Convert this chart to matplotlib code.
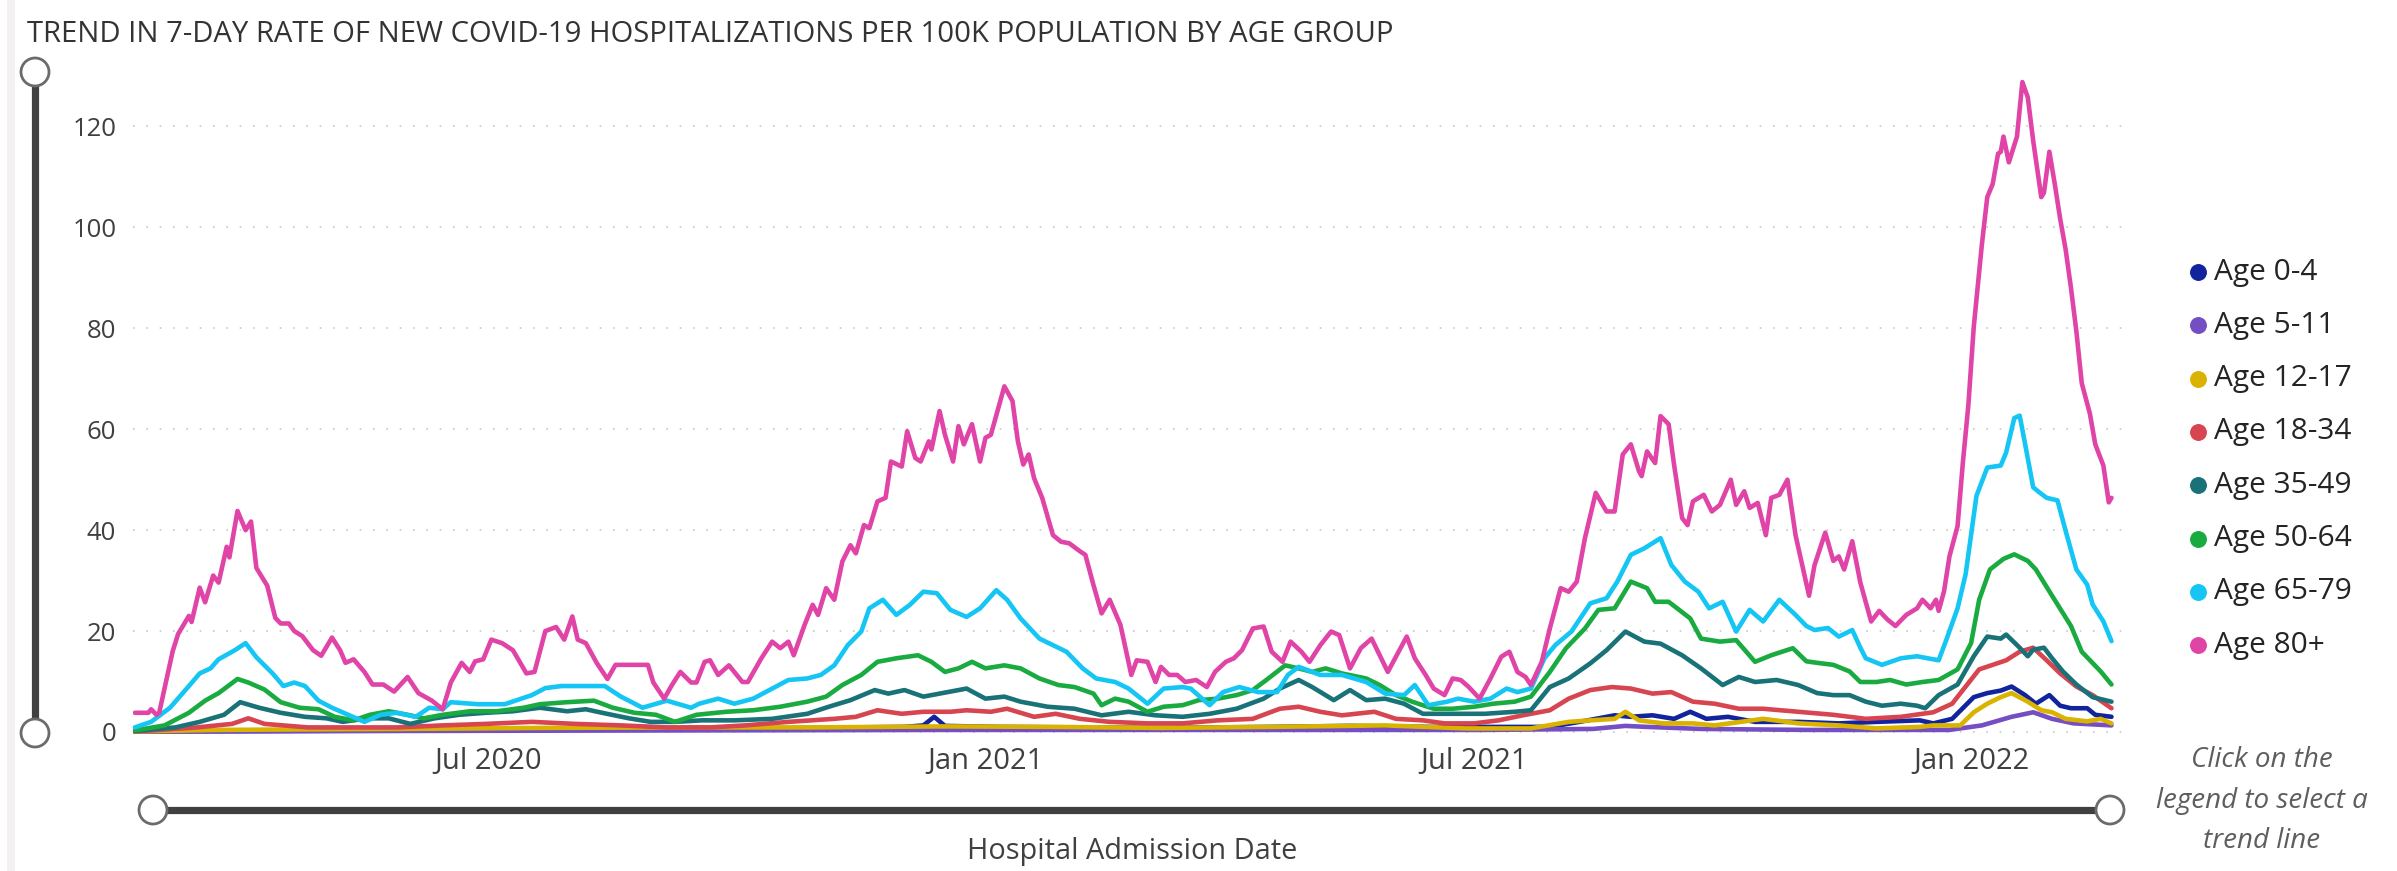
import numpy as np
import pandas as pd
import matplotlib
matplotlib.use("Agg")
import matplotlib.pyplot as plt
import matplotlib.dates as mdates
from matplotlib.patches import Circle, Rectangle

plt.rcParams['font.family'] = ['Open Sans', 'DejaVu Sans']

# first admission date on the axis; every series is given as day offsets from it
start = pd.Timestamp('2020-02-21')

groups = ['Age 0-4', 'Age 5-11', 'Age 12-17', 'Age 18-34',
          'Age 35-49', 'Age 50-64', 'Age 65-79', 'Age 80+']
colors = ['#12239E', '#744EC2', '#D9B300', '#D64550',
          '#197278', '#1AAB40', '#15C6F4', '#E044A7']
tick_dates = ['2020-07-01', '2021-01-01', '2021-07-01', '2022-01-01']
tick_labels = ['Jul 2020', 'Jan 2021', 'Jul 2021', 'Jan 2022']

days_0_4 = [0, 50, 100, 150, 200, 250, 285, 292, 296, 300, 320, 350, 380, 420, 450, 480, 510, 524, 535, 548,
            554, 562, 570, 576, 582, 590, 600, 616, 631, 645, 661, 666, 673, 681, 686, 691, 695, 700, 704, 709,
            713, 717, 723, 726, 732]
rate_0_4 = [0.1, 0.2, 0.3, 0.5, 0.6, 0.8, 1.0, 1.3, 3.0, 1.2, 1.0, 0.9, 0.8, 1.0, 1.2, 1.0, 1.0, 1.0, 2.0, 3.3,
            3.0, 3.3, 2.6, 4.0, 2.6, 3.0, 2.0, 2.0, 1.7, 2.0, 2.3, 1.7, 2.6, 6.9, 7.7, 8.2, 9.0, 7.3, 5.6, 7.3,
            5.2, 4.7, 4.7, 3.4, 3.0]

days_5_11 = [0, 100, 200, 300, 400, 500, 540, 552, 560, 580, 620, 672, 684, 695, 703, 710, 718, 732]
rate_5_11 = [0.05, 0.2, 0.3, 0.4, 0.4, 0.4, 0.6, 1.2, 1.0, 0.6, 0.4, 0.4, 1.3, 3.0, 3.9, 2.6, 1.7, 1.3]

days_12_17 = [0, 30, 60, 100, 150, 200, 250, 300, 340, 380, 420, 463, 493, 517, 531, 539, 548, 552, 557, 566,
              577, 585, 603, 616, 631, 645, 661, 666, 676, 681, 686, 691, 695, 701, 706, 710, 715, 723, 728, 732]
rate_12_17 = [0.1, 0.4, 0.5, 0.6, 0.8, 0.9, 0.9, 1.1, 1.0, 0.8, 1.0, 1.3, 0.7, 0.7, 2.0, 2.3, 2.6, 4.0, 2.3, 1.7,
              1.7, 1.3, 2.6, 1.7, 1.3, 0.7, 1.0, 1.3, 1.3, 3.9, 5.6, 6.9, 7.7, 6.0, 4.3, 3.9, 2.6, 2.1, 2.6, 1.7]

days_18_34 = [0, 23, 36, 42, 48, 64, 81, 97, 114, 130, 147, 163, 180, 197, 213,
              226, 242, 259, 267, 275, 284, 292, 302, 308, 317, 323, 333, 341, 350, 361, 375, 388, 401, 414, 424,
              431, 439, 447, 459, 467, 477, 485, 496, 505, 514, 524, 531, 539, 547, 554, 562, 569, 577, 585, 594,
              603, 616, 629, 641, 654, 666, 673, 678, 683, 688, 693, 698, 703, 708, 713, 719, 725, 732]
rate_18_34 = [0.1, 0.9, 1.6, 2.7, 1.6, 0.9, 0.9, 0.9, 1.3, 1.6, 2, 1.6, 1.3, 0.9, 0.9,
              1.3, 2, 2.6, 3, 4.3, 3.6, 4, 4, 4.3, 4, 4.6, 3, 3.6, 2.6, 2, 1.7, 1.7, 2.3, 2.6, 4.6,
              5, 4, 3.3, 4, 2.6, 2.3, 1.7, 1.7, 2.3, 3.3, 4.3, 6.6, 8.3, 8.9, 8.6, 7.6, 7.9, 6, 5.6, 4.6,
              4.6, 4, 3.4, 2.6, 3, 3.9, 5.6, 9, 12.4, 13.3, 14.2, 15.9, 16.7, 14.2, 11.6, 9, 7.3, 4.7]

days_35_49 = [0, 15, 24, 33, 39, 46, 54, 63, 71, 77, 86, 94, 102, 111, 120, 130, 140, 150, 160, 167,
              173, 183, 191, 200, 210, 222, 236, 249, 257, 265, 274, 279, 285, 292, 298,
              308, 315, 322, 328, 338, 348, 358, 368, 378, 388, 398, 408, 418, 424, 431, 436,
              444, 450, 456, 463, 470, 477, 485, 493, 500, 511, 517, 524, 531, 539, 545, 552, 559, 565, 573, 580,
              588, 594, 600, 608, 616, 623, 629, 635, 641, 647, 654, 660, 663, 668, 675,
              681, 686, 691, 693, 698, 701, 703, 707, 710, 714, 719, 725, 732]
rate_35_49 = [0.2, 0.9, 2, 3.4, 5.9, 4.8, 3.8, 3, 2.7, 2, 2.7, 2.7, 1.6, 2.7, 3.4, 3.8, 4.1, 4.8, 4.1, 4.5,
              3.8, 2.7, 2, 2, 2.3, 2.3, 2.6, 3.6, 5, 6.3, 8.3, 7.6, 8.3, 7, 7.6,
              8.6, 6.6, 7, 6, 5, 4.6, 3.3, 4, 3.3, 3, 3.6, 4.6, 6.6, 8.6, 10.3, 8.9,
              6.3, 8.3, 6.3, 6.6, 5.6, 3.6, 3.6, 3.6, 3.6, 4, 4.3, 8.9, 10.6, 13.6, 16.2, 19.9, 17.9, 17.5, 15.2, 12.6,
              9.3, 10.9, 9.9, 10.3, 9.3, 7.7, 7.3, 7.3, 6, 5.2, 5.6, 5.2, 4.7, 7.3, 9.4,
              15, 18.9, 18.5, 19.3, 16.7, 15, 16.3, 16.7, 14.6, 12, 9.4, 6.9, 6]

days_50_64 = [0, 11, 20, 26, 31, 38, 42, 48, 54, 61, 68, 74, 81, 87, 94, 101, 107, 114, 124, 134,
              144, 150, 160, 170, 177, 185, 193, 200, 208, 219, 229, 239, 249, 256, 262, 269, 275, 282, 290,
              295, 300, 305, 310, 315, 322, 328, 335, 342, 348, 355, 358, 363, 368, 375, 381, 388, 394, 401, 408,
              414, 419, 426, 431, 436, 441, 447, 456, 461, 467, 473, 481, 488, 496, 503, 511,
              517, 524, 530, 537, 542, 548, 554, 560, 563, 568, 576, 580, 587, 593, 600, 606, 614,
              619, 623, 629, 635, 639, 645, 650, 656, 662, 668, 675, 680, 683, 687, 692, 696, 701, 704, 710, 717,
              721, 728, 732]
rate_50_64 = [0.3, 1.3, 3.8, 6.2, 7.7, 10.5, 9.8, 8.4, 5.9, 4.8, 4.5, 3, 2.3, 3.4, 4.1, 3.4, 2.7, 3.4, 4.1, 4.1,
              4.8, 5.5, 5.9, 6.2, 4.8, 3.8, 3.4, 2, 3.4, 4, 4.3, 5, 6, 7, 9.3, 11.3, 13.9, 14.6, 15.2,
              13.9, 11.9, 12.6, 13.9, 12.6, 13.2, 12.6, 10.6, 9.3, 8.9, 7.6, 5.3, 6.6, 6, 4, 5, 5.3, 6.3, 6.6, 7.3,
              8.3, 10.3, 13.2, 12.6, 11.9, 12.6, 11.6, 10.6, 9.3, 7.3, 6, 4.6, 4.6, 5, 5.6, 6,
              7, 11.9, 16.6, 20.5, 24.2, 24.5, 29.8, 28.5, 25.8, 25.8, 22.5, 18.5, 17.9, 18.2, 13.9, 15.2, 16.6,
              14, 13.7, 13.3, 12, 9.9, 9.9, 10.3, 9.4, 9.9, 10.3, 12.4, 17.6, 26.2, 32.2, 34.3, 35.2, 33.9, 32.2, 27, 21,
              15.9, 12, 9.4]

days_65_79 = [0, 6, 13, 20, 24, 28, 31, 37, 41, 45, 51, 55, 59, 63, 68, 73, 79, 85, 91, 97,
              104, 109, 114, 117, 127, 137, 147, 152, 158, 165, 174, 180, 188, 197, 206, 209, 216, 222, 229, 236,
              242, 249, 254, 259, 264, 269, 272, 277, 282, 287, 292, 297, 302, 308, 313, 319, 323, 328, 335, 340,
              345, 351, 356, 363, 368, 375, 381, 388, 391, 398, 403, 409, 416, 423, 427, 431, 439, 447, 456, 463,
              470, 474, 479, 486, 490, 496, 502, 508, 512, 517, 522, 526, 532, 539, 545, 549, 554, 559, 565, 569,
              574, 579, 583, 588, 593, 598, 603, 609, 615, 619, 622, 627, 631, 636, 639, 641, 647, 654, 660,
              668, 671, 675, 678, 682, 686, 691, 693, 696, 698, 700, 703, 705, 708, 712, 715, 719, 723, 725, 729, 732]
rate_65_79 = [0.9, 2, 4.8, 9.1, 11.6, 12.6, 14.4, 16.2, 17.6, 14.8, 11.6, 9.1, 9.8, 9.1, 6.2, 4.8, 3.4, 2, 3.4, 3.8,
              3, 4.8, 4.5, 5.9, 5.5, 5.5, 7.3, 8.7, 9.1, 9.1, 9.1, 7, 4.8, 6.2, 4.8, 5.6, 6.6, 5.6, 6.6, 8.6,
              10.3, 10.6, 11.3, 13.2, 17.2, 19.9, 24.5, 26.2, 23.2, 25.2, 27.8, 27.5, 24.2, 22.8, 24.5, 28.1, 26.2, 22.5, 18.5, 17.2,
              15.9, 12.6, 10.6, 9.9, 8.6, 5.6, 8.6, 8.9, 8.6, 5.3, 7.9, 8.9, 7.9, 7.9, 11.3, 12.9, 11.3, 11.3, 9.9, 7.6,
              7.3, 9.3, 5.3, 6, 6.6, 6, 6.6, 8.6, 7.9, 8.6, 14.6, 17.2, 19.9, 25.5, 26.5, 29.8, 35.1, 36.4, 38.4, 33.1,
              29.8, 27.8, 24.5, 25.8, 19.9, 24.2, 21.9, 26.2, 23.2, 21, 20.2, 20.6, 18.9, 20.2, 16.7, 14.6, 13.3, 14.6, 15,
              14.2, 18.5, 24.5, 31.3, 46.8, 52.4, 52.8, 55.4, 62.2, 62.7, 57.1, 48.5, 47.6, 46.4, 45.9, 39.9, 32.2, 29.2, 25.3, 21.9, 18]

days_80 = [0, 5, 6, 8, 9, 14, 16, 20, 21, 24, 26, 29, 31, 34, 35, 38, 41, 43, 45, 49,
           52, 54, 57, 59, 62, 66, 69, 73, 76, 78, 81, 85, 88, 92, 96, 101, 105, 110, 114, 117,
           121, 124, 126, 129, 132, 136, 140, 145, 148, 152, 156, 159, 162, 164, 167, 171, 175, 178, 182, 186,
           190, 192, 196, 199, 202, 206, 208, 211, 213, 216, 220, 225, 227, 232, 236, 239, 242,
           244, 248, 251, 253, 256, 259, 262, 265, 267, 270, 272, 275, 278, 280, 284, 286, 289, 291, 294, 295,
           298, 300, 303, 305, 307, 310, 313, 315, 317, 322, 325, 327, 329, 331, 333, 336, 340, 343, 346, 350,
           352, 355, 358, 361, 365, 369, 371, 375, 378, 380, 383, 386, 389, 393, 397, 400, 404, 407, 410, 414,
           418, 421, 425, 428, 432, 435, 439, 443, 446, 450, 454, 458, 461, 464, 468,
           471, 474, 478, 481, 485, 488, 491, 494, 498, 502, 506, 509, 512, 515, 517, 521, 524, 528, 531, 534,
           537, 541, 545, 548, 551, 554, 557, 558, 560, 563, 565, 568, 570, 573, 575, 577, 581, 584, 587, 591,
           593, 596, 598, 601, 604, 606, 609, 612, 615, 620, 622, 626, 629, 631, 633, 636, 639, 643, 646,
           649, 652, 656, 660, 662, 665, 667, 668, 670, 672, 675, 677, 679, 681, 684, 686, 688, 690, 691, 692,
           694, 697, 699, 701, 703, 706, 707, 709, 711, 713, 715, 717, 719, 721, 724, 726, 729, 731, 732]
rate_80 = [3.8, 3.8, 4.5, 3.4, 3.8, 16, 19.4, 23, 21.8, 28.6, 25.7, 31, 29.6, 36.7, 34.6, 43.8, 40, 41.7, 32.5, 29,
           22.6, 21.5, 21.5, 20, 19, 16.2, 15.1, 18.7, 16.2, 13.7, 14.4, 11.9, 9.4, 9.4, 8, 10.9, 7.7, 6.2, 4.5, 9.8,
           13.7, 11.9, 14, 14.4, 18.3, 17.6, 16.2, 11.6, 11.9, 20, 20.8, 18.3, 22.9, 18.3, 17.6, 13.7, 10.5, 13.3, 13.3, 13.3,
           13.3, 9.8, 6.6, 9.4, 11.9, 9.8, 9.8, 13.9, 14.2, 11.3, 13.2, 9.9, 9.9, 14.6, 17.9, 16.6, 17.9,
           15.2, 21.2, 25.2, 23.2, 28.5, 26.2, 33.8, 37, 35.4, 41, 40.4, 45.7, 46.4, 53.6, 52.6, 59.6, 54.3, 53.6, 57.6, 56,
           63.6, 58.9, 53.6, 60.6, 57, 61, 53.6, 58.3, 58.9, 68.5, 65.6, 57.6, 53, 55, 50.3, 46.4, 39, 37.7, 37.4, 35.8,
           35.1, 29.1, 23.5, 26.2, 21.2, 11.3, 14.2, 13.9, 9.9, 12.9, 11.3, 11.3, 9.9, 10.3, 8.9, 11.9, 13.9, 14.6, 16.2, 20.5,
           20.9, 15.9, 13.9, 17.9, 15.9, 13.9, 17.2, 19.9, 19.2, 12.6, 16.6, 18.5, 15.2, 11.9, 15.9,
           18.9, 14.6, 11.3, 8.6, 7.3, 10.6, 10.3, 8.9, 6.6, 10.6, 14.9, 15.9, 11.9, 10.9, 9.3, 13.9, 20.5, 28.5, 27.8, 29.8,
           38.4, 47.4, 43.7, 43.7, 55, 57, 51.7, 50.7, 55.6, 53.3, 62.6, 61, 53, 42.4, 41, 45.7, 47, 43.7, 45, 50,
           45, 47.7, 44.4, 45.4, 39, 46.4, 47, 50, 39, 27, 33, 39.5, 33.9, 34.8, 32.2, 37.8, 29.6, 21.9, 24,
           22.3, 21, 23.2, 24.5, 26.2, 24.5, 26.2, 24, 27.9, 34.8, 40.8, 53.6, 64.8, 80.3, 96.6, 106, 108.6, 114.6, 115, 118,
           112.9, 118, 128.8, 125.8, 117.2, 106, 106.9, 115, 108.6, 101.7, 95.7, 88, 79.4, 69.1, 63.1, 57, 52.8, 45.5, 46.4]

all_days = [days_0_4, days_5_11, days_12_17, days_18_34, days_35_49, days_50_64, days_65_79, days_80]
all_rates = [rate_0_4, rate_5_11, rate_12_17, rate_18_34, rate_35_49, rate_50_64, rate_65_79, rate_80]

W, H = 2397, 871
fig = plt.figure(figsize=(W / 100, H / 100), dpi=100)
fig.patch.set_facecolor('white')

# overlay in pixel coords for the slicer widgets, title and legend
ov = fig.add_axes([0, 0, 1, 1])
ov.set_xlim(0, W)
ov.set_ylim(H, 0)
ov.axis('off')

ax = fig.add_axes([133 / W, 1 - 737 / H, (2132 - 133) / W, (737 - 71) / H])
ax.set_facecolor('none')

for days, rate, c in zip(all_days, all_rates, colors):
    x = start + pd.to_timedelta(days, unit='D')
    ax.plot(x, rate, color=c, lw=3.3, solid_joinstyle='round', solid_capstyle='round')

x0 = mdates.date2num(start)
ax.set_xlim(x0 - 0.7, x0 + 739.6)
ax.set_ylim(-1, 131)
ax.set_yticks(range(0, 121, 20))
ax.set_xticks([mdates.date2num(pd.Timestamp(d)) for d in tick_dates])
ax.set_xticklabels(tick_labels)
ax.tick_params(axis='y', length=0, pad=12, labelsize=18.5, labelcolor='#404040')
ax.tick_params(axis='x', length=0, pad=7, labelsize=21, labelcolor='#404040')
for s in ax.spines.values():
    s.set_visible(False)
ax.grid(axis='y', color='#C8C8C8', lw=1.2, linestyle=(0, (1, 7)))
ax.set_axisbelow(True)

# left edge strip of the visual
ov.add_patch(Rectangle((7, 0), 8, H, color='#F3F2F1', lw=0))

# vertical (value) slider
ov.plot([35, 35], [72, 733], color='#404040', lw=5.2, solid_capstyle='butt')
for yy in (72, 733):
    ov.add_patch(Circle((35, yy), 14, facecolor='white', edgecolor='#6B6B6B', lw=2, zorder=5))

# horizontal (date) slider
ov.plot([153, 2110], [810, 810], color='#404040', lw=5.2, solid_capstyle='butt')
for xx in (153, 2110):
    ov.add_patch(Circle((xx, 810), 14, facecolor='white', edgecolor='#6B6B6B', lw=2, zorder=5))

title = ov.text(27, 35, 'TREND IN 7-DAY RATE OF NEW COVID-19 HOSPITALIZATIONS PER 100K POPULATION BY AGE GROUP',
                ha='left', va='center', fontsize=20, color='#333333')
xlab = ov.text(1132, 851, 'Hospital Admission Date', ha='center', va='center', fontsize=20.8, color='#404040')

# legend
for i, (g, c) in enumerate(zip(groups, colors)):
    yy = 272 + 53.3 * i
    ov.plot(2198, yy, 'o', ms=13, color=c, mec='white', mew=0.8)
    ov.text(2214, yy, g, ha='left', va='center', fontsize=21.5, color='#252423')

for yy, line in zip([760, 801, 841], ['Click on the', 'legend to select a', 'trend line']):
    ov.text(2262, yy, line, ha='center', va='center', fontsize=20, style='italic', color='#605E5C')

# fit title width to the reference
fig.canvas.draw()
r = fig.canvas.get_renderer()
bb = title.get_window_extent(r)
title.set_fontsize(title.get_fontsize() * 1367 / bb.width)

fig.savefig('out.png', dpi=100, facecolor='white')
